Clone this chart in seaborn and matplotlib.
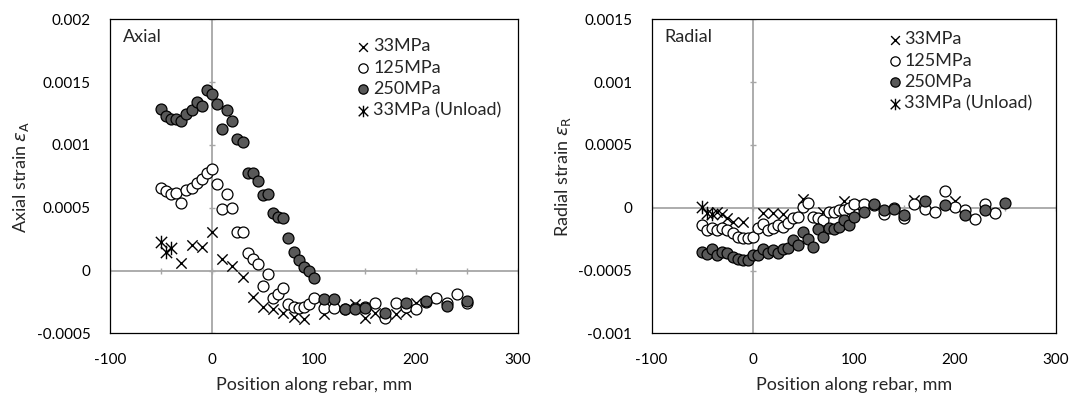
import numpy as np
import matplotlib
matplotlib.use('Agg')
import matplotlib.pyplot as plt
from matplotlib.path import Path
import seaborn as sns

# ---- data (strain values, x in mm, y in 1e-3) ----
# Axial strain
ax_x_33 = [-30, -20, -10, 0, 10, 20, 30, 40, 50, 60, 70, 80, 90, 110, 140, 150, 160, 180, 190, 200]
ax_y_33 = [0.06, 0.20, 0.19, 0.31, 0.09, 0.04, -0.05, -0.21, -0.29, -0.31, -0.34, -0.37, -0.39,
           -0.35, -0.27, -0.38, -0.34, -0.35, -0.33, -0.26]

ax_x_125 = list(range(-50, 101, 5)) + [110, 120, 130, 140, 150, 160, 170, 180, 190, 200, 210, 220, 230, 240, 250]
ax_y_125 = [0.66, 0.63, 0.61, 0.62, 0.54, 0.64, 0.66, 0.70, 0.73, 0.78, 0.81, 0.69, 0.49, 0.61, 0.50,
            0.31, 0.31, 0.14, 0.09, 0.05, -0.12, -0.03, -0.22, -0.19, -0.14, -0.27, -0.29, -0.30, -0.29,
            -0.27, -0.22, -0.30, -0.30, -0.31, -0.30, -0.29, -0.26, -0.38, -0.26, -0.29, -0.31, -0.25,
            -0.22, -0.26, -0.19, -0.26]

ax_x_250 = list(range(-50, 101, 5)) + [110, 120, 130, 140, 150, 170, 190, 210, 230, 250]
ax_y_250 = [1.29, 1.23, 1.21, 1.21, 1.19, 1.25, 1.28, 1.34, 1.31, 1.44, 1.41, 1.33, 1.13, 1.28, 1.19,
            1.05, 1.02, 0.78, 0.78, 0.71, 0.60, 0.61, 0.46, 0.43, 0.42, 0.26, 0.15, 0.08, 0.03, 0.0,
            -0.06, -0.23, -0.23, -0.31, -0.31, -0.30, -0.34, -0.26, -0.24, -0.28, -0.24]

ax_x_unl = [-50, -45, -40]
ax_y_unl = [0.23, 0.15, 0.18]

# Radial strain
rd_x_33 = [-35, -30, -25, -20, -10, 10, 20, 30, 50, 70, 90, 100, 160, 200]
rd_y_33 = [-0.03, -0.05, -0.08, -0.11, -0.11, -0.04, -0.04, -0.05, 0.07, -0.03, 0.05, 0.02, 0.06, 0.05]

rd_x_125 = list(range(-50, 101, 5)) + [110, 120, 130, 140, 150, 160, 170, 180, 190, 200, 210, 220, 230, 240]
rd_y_125 = [-0.14, -0.18, -0.16, -0.18, -0.16, -0.18, -0.20, -0.23, -0.24, -0.24, -0.23, -0.16, -0.13,
            -0.18, -0.16, -0.14, -0.15, -0.12, -0.08, -0.07, 0.01, 0.04, -0.07, -0.08, -0.10, -0.03,
            -0.03, -0.02, -0.02, 0.0, 0.03, 0.03, 0.02, -0.05, 0.0, -0.08, 0.03, -0.01, -0.03, 0.13,
            0.01, -0.02, -0.09, 0.03, -0.04]

rd_x_250 = list(range(-50, 101, 5)) + [110, 120, 130, 140, 150, 170, 190, 210, 230, 250]
rd_y_250 = [-0.35, -0.37, -0.33, -0.38, -0.35, -0.36, -0.39, -0.41, -0.42, -0.42, -0.38, -0.38, -0.33,
            -0.36, -0.34, -0.36, -0.33, -0.32, -0.26, -0.30, -0.19, -0.25, -0.31, -0.17, -0.23, -0.16,
            -0.17, -0.15, -0.10, -0.14, -0.07, -0.03, 0.03, -0.02, -0.01, -0.06, 0.05, 0.02, -0.06,
            -0.02, 0.04]

rd_x_unl = [-50, -45, -40]
rd_y_unl = [0.01, -0.04, -0.05]

x_ticks = [-100, 0, 100, 200, 300]
ax_yticks = [-0.0005, 0, 0.0005, 0.001, 0.0015, 0.002]
ax_ylabels = ['-0.0005', '0', '0.0005', '0.001', '0.0015', '0.002']
rd_yticks = [-0.001, -0.0005, 0, 0.0005, 0.001, 0.0015]
rd_ylabels = ['-0.001', '-0.0005', '0', '0.0005', '0.001', '0.0015']

labels = ['33MPa', '125MPa', '250MPa', '33MPa (Unload)']

sns.set_style('white')
plt.rcParams['font.family'] = ['Lato', 'DejaVu Sans']
plt.rcParams['axes.unicode_minus'] = False

fig = plt.figure(figsize=(10.75, 3.99), dpi=100)
ax1 = fig.add_axes([0.1023, 0.1647, 0.3795, 0.7865])
ax2 = fig.add_axes([0.6062, 0.1647, 0.3760, 0.7865])

# X with a vertical stroke, like Excel's star marker
unload_marker = Path([(-1, -1), (1, 1), (-1, 1), (1, -1), (0, -1.2), (0, 1.2)],
                     [Path.MOVETO, Path.LINETO, Path.MOVETO, Path.LINETO, Path.MOVETO, Path.LINETO])

FS = 13


def draw_panel(ax, xs, ys, yticks, ylabels, ylabel, tag, leg_anchor):
    # grey zero lines with small ticks
    ax.axhline(0, color='#a6a6a6', lw=1.3, zorder=1)
    ax.axvline(0, color='#a6a6a6', lw=1.3, zorder=1)
    minor_x = np.arange(-100, 301, 50)
    ax.plot(minor_x, np.zeros_like(minor_x), ls='none', marker='|', ms=5, color='#a6a6a6', zorder=1)
    ax.plot(np.zeros(len(yticks)), yticks, ls='none', marker='_', ms=5, color='#a6a6a6', zorder=1)

    sns.scatterplot(x=xs[0], y=np.array(ys[0]) * 1e-3, ax=ax, marker='x', s=55, color='black',
                    linewidth=1.0, label=labels[0], zorder=3)
    sns.scatterplot(x=xs[1], y=np.array(ys[1]) * 1e-3, ax=ax, marker='o', s=62, color='white',
                    edgecolor='black', linewidth=0.9, label=labels[1], zorder=4)
    sns.scatterplot(x=xs[2], y=np.array(ys[2]) * 1e-3, ax=ax, marker='o', s=62, color='#595959',
                    edgecolor='black', linewidth=0.9, label=labels[2], zorder=5)
    sns.scatterplot(x=xs[3], y=np.array(ys[3]) * 1e-3, ax=ax, marker=unload_marker, s=95,
                    color='black', edgecolor='black', linewidth=1.0, label=labels[3], zorder=6)

    ax.set_xlim(-100, 300)
    ax.set_ylim(yticks[0], yticks[-1])
    ax.set_xticks(x_ticks)
    ax.set_xticklabels([str(t) for t in x_ticks])
    ax.set_yticks(yticks)
    ax.set_yticklabels(ylabels)
    ax.tick_params(axis='both', length=0, labelsize=11, colors='black')
    ax.tick_params(axis='y', pad=14)
    ax.tick_params(axis='x', pad=14.5)
    for sp in ax.spines.values():
        sp.set_color('black')
        sp.set_linewidth(0.9)
    ax.set_xlabel('Position along rebar, mm', fontsize=FS, labelpad=7)
    ax.set_ylabel(ylabel, fontsize=FS, labelpad=4)
    ax.text(0.032, 0.943, tag, transform=ax.transAxes, fontsize=FS, va='center', ha='left')
    ax.legend(loc='upper left', bbox_to_anchor=leg_anchor, frameon=False, fontsize=FS,
              handletextpad=0.15, labelspacing=0.3, borderpad=0, handlelength=0.8,
              markerscale=0.85, borderaxespad=0)


draw_panel(ax1, [ax_x_33, ax_x_125, ax_x_250, ax_x_unl],
           [ax_y_33, ax_y_125, ax_y_250, ax_y_unl],
           ax_yticks, ax_ylabels, r'Axial strain $\varepsilon_\mathrm{A}$', 'Axial', (0.603, 0.94))
draw_panel(ax2, [rd_x_33, rd_x_125, rd_x_250, rd_x_unl],
           [rd_y_33, rd_y_125, rd_y_250, rd_y_unl],
           rd_yticks, rd_ylabels, r'Radial strain $\varepsilon_\mathrm{R}$', 'Radial', (0.583, 0.962))

fig.savefig('out.png', dpi=100)
